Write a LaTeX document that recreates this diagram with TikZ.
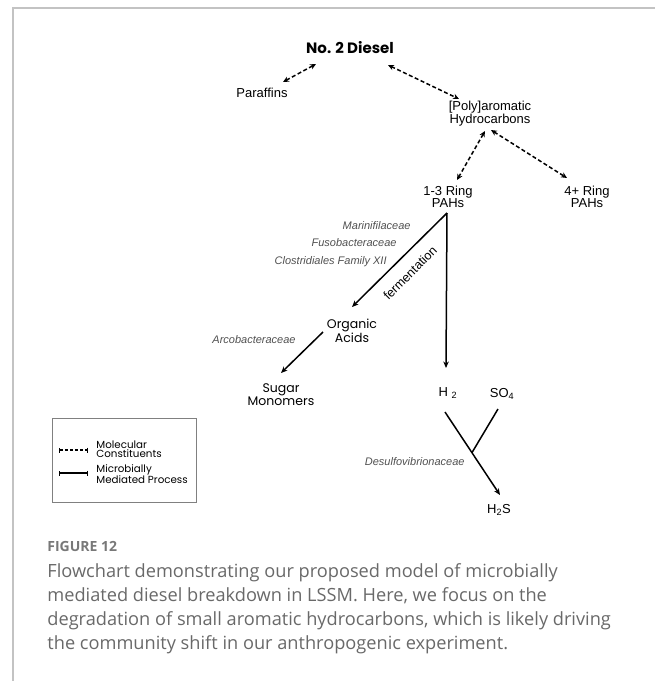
\documentclass[tikz,border=0pt]{standalone}
\usepackage{fontspec}
\setmainfont{Liberation Sans}
\newfontfamily\popfont{Poppins}
\newfontfamily\capfont{Open Sans}
\usepackage{tikz}
\usetikzlibrary{positioning, arrows.meta}
\definecolor{taxgray}{RGB}{80,80,80}
\definecolor{capgray}{RGB}{105,105,105}
\definecolor{rulegray}{RGB}{195,195,195}

\begin{document}
\begin{tikzpicture}[x=1pt, y=-1pt, thick,
    part/.style={align=center, font=\fontsize{13}{11}\selectfont, inner sep=1pt},
    prod/.style={align=center, font=\popfont\fontsize{12.5}{11}\selectfont, inner sep=1pt},
    taxon/.style={anchor=east, text=taxgray, font=\itshape\fontsize{11}{11}\selectfont, inner sep=0pt},
    constit/.style={{Stealth[length=6pt,width=5.5pt]}-{Stealth[length=6pt,width=5.5pt]}, dash pattern=on 4pt off 2.5pt, line width=1.5pt},
    process/.style={line width=1.5pt},
    flow/.style={process, -{Stealth[length=6.5pt,width=5.5pt]}},
    legtext/.style={anchor=west, align=left, font=\popfont\fontsize{10.3}{9.5}\selectfont, inner sep=0pt}]
    \useasboundingbox (0,0) rectangle (655,681);
    \draw[rulegray, line width=1.3pt] (655,8) -- (13,8) -- (13,681);

    % Nodes
    \node[font=\popfont\bfseries\fontsize{15}{15}\selectfont] (diesel) at (350,48) {No. 2 Diesel};
    \node[part] (paraffins) at (262,93) {Paraffins};
    \node[part] (poly) at (490,114) {[Poly]aromatic\\Hydrocarbons};
    \node[part] (ring13) at (448,197) {1-3 Ring\\PAHs};
    \node[part, right of=ring13, node distance=139pt] (ring4) {4+ Ring\\PAHs};
    \node[prod] (organic) at (352,331) {Organic\\Acids};
    \node[prod] (sugar) at (281,395) {Sugar\\Monomers};
    \node[part, below of=ring13, node distance=196pt] (h2) {H \textsubscript{2}};
    \node[part] (so4) at (502,394) {SO\textsubscript{4}};
    \node[part] (h2s) at (499,510) {H\textsubscript{2}S};

    % Taxa
    \node[taxon] (marini) at (411,226) {Marinifilaceae};
    \node[taxon] (fuso) at (397,243) {Fusobacteraceae};
    \node[taxon] (clostr) at (387,262) {Clostridiales Family XII};
    \node[taxon] (arco) at (296,340) {Arcobacteraceae};
    \node[taxon] (desulfo) at (465,462) {Desulfovibrionaceae};
    \node[rotate=45, font=\fontsize{12.5}{12}\selectfont, inner sep=0pt] (ferment) at (410,273) {fermentation};

    % Edges
    \draw[constit] ([shift={(21,-11)}]paraffins.center) -- ([shift={(-34,16)}]diesel.center);
    \draw[constit] ([shift={(38,17)}]diesel.center) -- ([shift={(-31,-15)}]poly.center);
    \draw[constit] ([shift={(-5,17)}]poly.center) -- ([shift={(9,-17)}]ring13.center);
    \draw[constit] ([shift={(1,16)}]poly.center) -- ([shift={(-20,-19)}]ring4.center);
    \coordinate (fork) at ([shift={(-1,16)}]ring13.center);
    \draw[flow] (fork) -- ([shift={(0,-24)}]organic.center);
    \draw[flow] (fork) -- ([shift={(-2,-25)}]h2.center);
    \draw[flow] ([shift={(-29,1)}]organic.center) -- ([shift={(0,-22)}]sugar.center);
    \draw[flow] ([shift={(-3,19)}]h2.center) -- coordinate[pos=0.49] (merge) ([shift={(1,-15)}]h2s.center);
    \draw[process] ([shift={(-4,15)}]so4.center) -- (merge);

    % Legend
    \node[draw=gray, line width=0.7pt, minimum width=144pt, minimum height=84pt, inner sep=0pt] (legend) at (124,460) {};
    \draw[line width=1.1pt, dash pattern=on 3pt off 2pt, {Bar[width=5pt]}-{Bar[width=5pt]}] ([shift={(-65,-10)}]legend.center) -- ++(29,0);
    \draw[line width=1.4pt, {Bar[width=5pt]}-{Bar[width=5pt]}] ([shift={(-65,13)}]legend.center) -- ++(29,0);
    \node[legtext] (moltext) at (96,449) {Molecular\\Constituents};
    \node[legtext] (mictext) at (96,474) {Microbially\\Mediated Process};

    % Caption
    \node[anchor=base west, inner sep=0pt, text=capgray!90, font=\capfont\bfseries\fontsize{14}{14}\selectfont] (figlabel) at (47,551) {FIGURE 12};
    \node[anchor=north west, align=left, inner sep=0pt, text=capgray, font=\capfont\fontsize{18.2}{24}\selectfont] (captext) at (47,563) {Flowchart demonstrating our proposed model of microbially\\mediated diesel breakdown in LSSM. Here, we focus on the\\degradation of small aromatic hydrocarbons, which is likely driving\\the community shift in our anthropogenic experiment.};
\end{tikzpicture}
\end{document}
